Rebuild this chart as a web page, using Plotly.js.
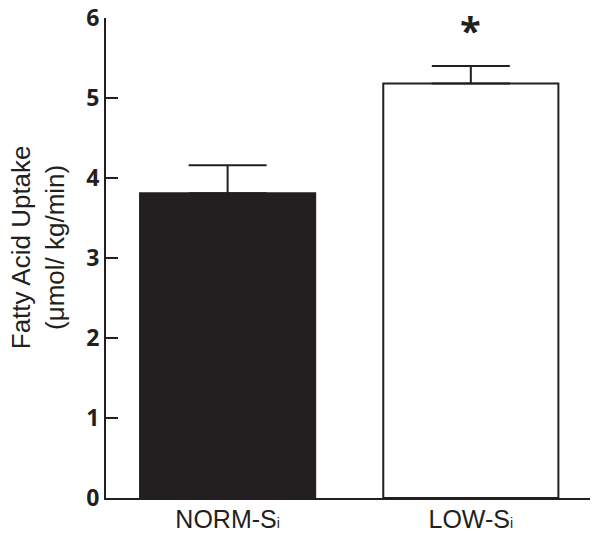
<!DOCTYPE html>
<html>
<head>
<meta charset="utf-8">
<script src="https://cdn.plot.ly/plotly-3.0.1.min.js"></script>
<style>html,body{margin:0;padding:0;background:#fff;}#chart{width:601px;height:538px;}</style>
</head>
<body>
<div id="chart"></div>
<script>
// Data
var categories = ["NORM-S<span style='font-size:14px'>i</span>", "LOW-S<span style='font-size:14px'>i</span>"];
var uptakeMeans = [3.81, 5.18];
var uptakeSEM = [0.35, 0.22];
var yTickVals = [0, 1, 2, 3, 4, 5, 6];
var yTitleLines = ["Fatty Acid Uptake", "(μmol/ kg/min)"];
var significance = ["", "*"];

var ink = "#231f20";

var trace = {
  type: "bar",
  x: categories,
  y: uptakeMeans,
  marker: {
    color: [ink, "#ffffff"],
    line: {color: ink, width: 2}
  },
  error_y: {
    type: "data",
    symmetric: false,
    array: uptakeSEM,
    arrayminus: [0, 0],
    color: ink,
    thickness: 2,
    width: 39
  },
  hoverinfo: "none"
};

var annotations = [{
  xref: "paper", yref: "paper",
  x: -0.14, y: 0.5 + 11/480,
  xanchor: "center", yanchor: "middle",
  textangle: -90,
  showarrow: false,
  text: yTitleLines.join("<br>"),
  font: {family: "Liberation Sans, Arial, sans-serif", size: 26, color: ink}
}];
categories.forEach(function(c, i) {
  if (significance[i]) {
    annotations.push({
      xref: "x", yref: "y",
      x: c, y: uptakeMeans[i] + uptakeSEM[i] + 0.1,
      yanchor: "bottom",
      showarrow: false,
      text: "<b>" + significance[i] + "</b>",
      font: {family: "Open Sans, DejaVu Sans, sans-serif", size: 38, color: ink}
    });
  }
});

var layout = {
  width: 601, height: 538,
  margin: {l: 106, r: 11, t: 18, b: 40},
  paper_bgcolor: "#fff",
  plot_bgcolor: "#fff",
  showlegend: false,
  bargap: 0.28,
  xaxis: {
    type: "category",
    range: [-0.5, 1.49],
    tickvals: categories,
    ticktext: categories,
    showline: true,
    linecolor: ink,
    linewidth: 2,
    ticks: "",
    showgrid: false,
    zeroline: false,
    ticklabelstandoff: -2,
    tickfont: {family: "Liberation Sans, Arial, sans-serif", size: 25, color: ink}
  },
  yaxis: {
    range: [0, 6],
    tickvals: yTickVals,
    showline: true,
    linecolor: ink,
    linewidth: 2,
    ticks: "inside",
    ticklen: 12,
    tickwidth: 2,
    tickcolor: ink,
    showgrid: false,
    zeroline: false,
    tickfont: {family: "Open Sans, DejaVu Sans, sans-serif", size: 23, color: ink, weight: "bold"}
  },
  annotations: annotations
};

Plotly.newPlot("chart", [trace], layout, {staticPlot: true, displayModeBar: false});
</script>
</body>
</html>
